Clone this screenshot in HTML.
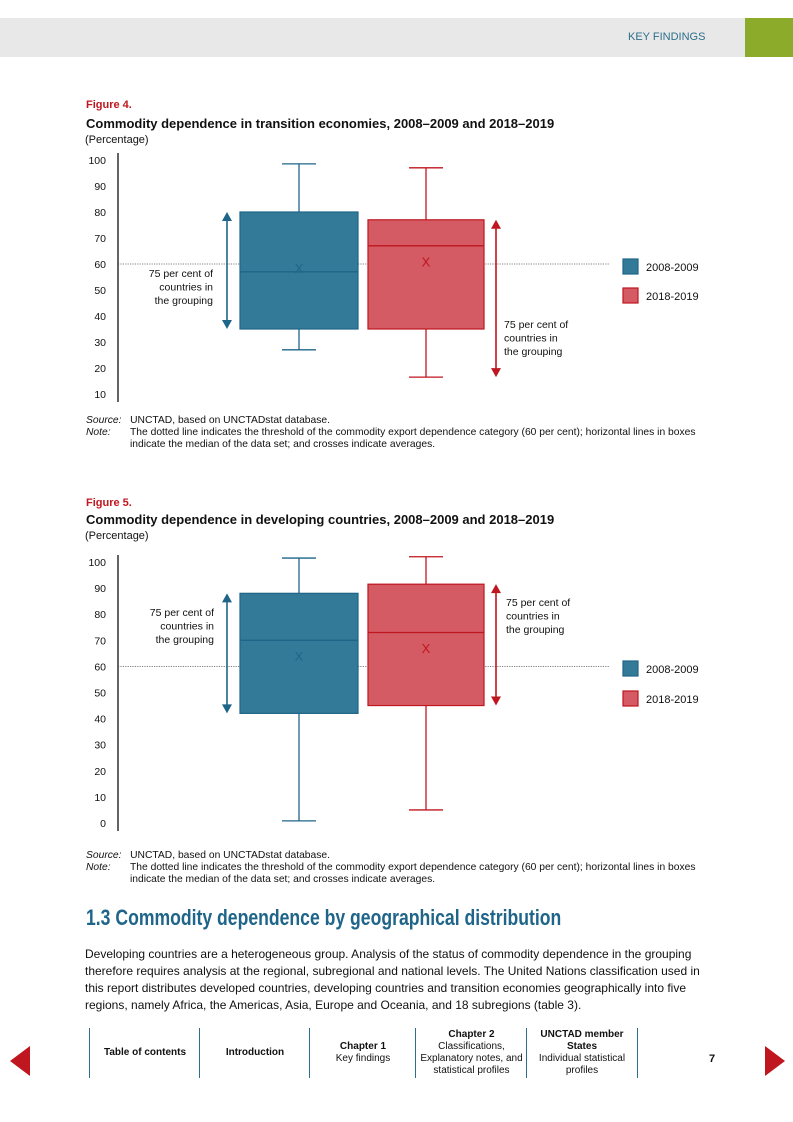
<!DOCTYPE html>
<html><head><meta charset="utf-8">
<style>
body{margin:0;width:793px;height:1122px;position:relative;background:#fff;font-family:"Liberation Sans",sans-serif;color:#111;overflow:hidden}
.a{position:absolute;white-space:nowrap}
.fig{color:#c0161f;font-size:11px;font-weight:bold}
.ttl{font-size:13px;font-weight:bold}
.pct{font-size:11px}
.src{font-size:10.3px;line-height:12px}
.nav{position:absolute;top:1028px;height:50px;border-left:1.5px solid #2c6f8c;font-size:10px;text-align:center;display:flex;align-items:center;justify-content:center;line-height:12px}
</style></head><body>
<div class="a" style="left:0;top:18px;width:745px;height:39px;background:#e8e8e8"></div>
<div class="a" style="left:745px;top:18px;width:48px;height:39px;background:#8dab2a"></div>
<div class="a" style="left:628px;top:31px;font-size:11px;color:#2c6f8c">KEY FINDINGS</div>

<div class="a fig" style="left:86px;top:99px">Figure 4.</div>
<div class="a ttl" style="left:86px;top:116px">Commodity dependence in transition economies, 2008–2009 and 2018–2019</div>
<div class="a pct" style="left:85px;top:134px">(Percentage)</div>
<div class="a src" style="left:86px;top:415px"><i>Source:</i>&nbsp;&nbsp; UNCTAD, based on UNCTADstat database.<br><i>Note:</i><span style="position:absolute;left:44px">The dotted line indicates the threshold of the commodity export dependence category (60 per cent); horizontal lines in boxes<br>indicate the median of the data set; and crosses indicate averages.</span></div>

<div class="a fig" style="left:86px;top:497px">Figure 5.</div>
<div class="a ttl" style="left:86px;top:512px">Commodity dependence in developing countries, 2008–2009 and 2018–2019</div>
<div class="a pct" style="left:85px;top:530px">(Percentage)</div>
<div class="a src" style="left:86px;top:850px"><i>Source:</i>&nbsp;&nbsp; UNCTAD, based on UNCTADstat database.<br><i>Note:</i><span style="position:absolute;left:44px">The dotted line indicates the threshold of the commodity export dependence category (60 per cent); horizontal lines in boxes<br>indicate the median of the data set; and crosses indicate averages.</span></div>

<div class="a" style="left:86px;top:905px;font-size:22px;font-weight:bold;color:#1f6589;transform:scaleX(0.8);transform-origin:left top">1.3 Commodity dependence by geographical distribution</div>
<div class="a" style="left:85px;top:946px;font-size:12px;line-height:17px">Developing countries are a heterogeneous group. Analysis of the status of commodity dependence in the grouping<br>therefore requires analysis at the regional, subregional and national levels. The United Nations classification used in<br>this report distributes developed countries, developing countries and transition economies geographically into five<br>regions, namely Africa, the Americas, Asia, Europe and Oceania, and 18 subregions (table 3).</div>

<div class="a" style="left:10px;top:1046px;width:0;height:0;border-top:15px solid transparent;border-bottom:15px solid transparent;border-right:20px solid #c0161f"></div>
<div class="a" style="left:765px;top:1046px;width:0;height:0;border-top:15px solid transparent;border-bottom:15px solid transparent;border-left:20px solid #c0161f"></div>
<div class="nav" style="left:89px;width:110px"><b>Table of contents</b></div>
<div class="nav" style="left:199px;width:110px"><b>Introduction</b></div>
<div class="nav" style="left:309px;width:106px"><span><b>Chapter 1</b><br>Key findings</span></div>
<div class="nav" style="left:415px;width:111px"><span><b>Chapter 2</b><br>Classifications,<br>Explanatory notes, and<br>statistical profiles</span></div>
<div class="nav" style="left:526px;width:110px;border-right:1.5px solid #2c6f8c"><span><b>UNCTAD member States</b><br>Individual statistical<br>profiles</span></div>
<div class="a" style="left:709px;top:1053px;font-size:11px;font-weight:bold">7</div>

<svg id="charts" class="a" style="left:0;top:0" width="793" height="1122" xmlns="http://www.w3.org/2000/svg"></svg>
<script>
// Figure 4 data (transition economies)
const series = ["2008-2009","2018-2019"];
const f4Ticks = [100,90,80,70,60,50,40,30,20,10];
const f4Min = [27,16.5];
const f4Q1 = [35,35];
const f4Median = [57,67];
const f4Mean = [58.5,61];
const f4Q3 = [80,77];
const f4Max = [98.5,97];
// Figure 5 data (developing countries)
const f5Ticks = [100,90,80,70,60,50,40,30,20,10,0];
const f5Min = [0.8,5];
const f5Q1 = [42,45];
const f5Median = [70,73];
const f5Mean = [64,67];
const f5Q3 = [88,91.5];
const f5Max = [101.5,102];
const threshold = 60;

const svg = document.getElementById('charts');
const NS = "http://www.w3.org/2000/svg";
const colors = ["#327a98","#d45b63"];
const strokes = ["#1f6589","#c0161f"];
function mk(tag, attrs, parent){
  const e = document.createElementNS(NS, tag);
  for (const k in attrs) e.setAttribute(k, attrs[k]);
  (parent||svg).appendChild(e);
  return e;
}
function draw(cfg){
  const y = v => cfg.y0 + (cfg.vTop - v) * cfg.ppu;
  const g = mk('g', {});
  
  
  const ax = mk('line', {x1:118,x2:118,y1:y(cfg.ticks[0])-7,y2:y(cfg.ticks[cfg.ticks.length-1])+8,stroke:'#111','stroke-width':1.3}, g);
  
  
  cfg.ticks.forEach(t => {
    const tx = mk('text', {x:106,y:y(t)+4,'text-anchor':'end','font-size':10.5,'font-family':'Liberation Sans, sans-serif',fill:'#111'}, g);
    tx.textContent = t;
    
    
  });
  const th = mk('line', {x1:118,x2:610,y1:y(threshold),y2:y(threshold),stroke:'#555','stroke-width':0.8,'stroke-dasharray':'1.2,1.2'}, g);
  
  
  const xs = [240,368], ws = [118,116];
  for (let i=0;i<2;i++){
    const cx = xs[i] + ws[i]/2;
    const b = mk('g', {}, g);
    
    
    mk('line',{x1:cx,x2:cx,y1:y(cfg.max[i]),y2:y(cfg.q3[i]),stroke:strokes[i],'stroke-width':1.3},b);
    mk('line',{x1:cx,x2:cx,y1:y(cfg.q1[i]),y2:y(cfg.min[i]),stroke:strokes[i],'stroke-width':1.3},b);
    mk('line',{x1:cx-17,x2:cx+17,y1:y(cfg.max[i]),y2:y(cfg.max[i]),stroke:strokes[i],'stroke-width':1.3},b);
    mk('line',{x1:cx-17,x2:cx+17,y1:y(cfg.min[i]),y2:y(cfg.min[i]),stroke:strokes[i],'stroke-width':1.3},b);
    mk('rect',{x:xs[i],y:y(cfg.q3[i]),width:ws[i],height:y(cfg.q1[i])-y(cfg.q3[i]),fill:colors[i],stroke:strokes[i],'stroke-width':1.2},b);
    mk('line',{x1:xs[i],x2:xs[i]+ws[i],y1:y(cfg.median[i]),y2:y(cfg.median[i]),stroke:strokes[i],'stroke-width':1.3},b);
    const m = mk('text',{x:cx,y:y(cfg.mean[i])+5,'text-anchor':'middle','font-size':13,'font-family':'Liberation Sans, sans-serif',fill:strokes[i]},b);
    m.textContent = 'X';
    const ly = cfg.legY[i];
    const lr = mk('rect',{x:623,y:ly,width:15,height:15,fill:colors[i],stroke:strokes[i],'stroke-width':1.2},g);
    
    
    const lt = mk('text',{x:646,y:ly+12,'font-size':11,'font-family':'Liberation Sans, sans-serif',fill:'#111'},g);
    lt.textContent = series[i];
    
    
  }
  const arr = [[227,cfg.q3[0],cfg.q1[0]],[496,cfg.q3[1],cfg.min[1]]];
  if (cfg.redToQ1) arr[1][2] = cfg.q1[1];
  arr.forEach((a,i)=>{
    const y1=y(a[1]), y2=y(a[2]), x=a[0];
    const ag = mk('g',{},g);
    
    
    mk('line',{x1:x,x2:x,y1:y1+8,y2:y2-8,stroke:strokes[i],'stroke-width':1.6},ag);
    mk('polygon',{points:`${x-5},${y1+9} ${x+5},${y1+9} ${x},${y1}`,fill:strokes[i]},ag);
    mk('polygon',{points:`${x-5},${y2-9} ${x+5},${y2-9} ${x},${y2}`,fill:strokes[i]},ag);
  });
  cfg.notes.forEach(n=>{
    n.lines.forEach((l,j)=>{
      const t = mk('text',{x:n.x,y:n.y+j*13.5,'text-anchor':n.anchor,'font-size':10.5,'font-family':'Liberation Sans, sans-serif',fill:'#111'},g);
      t.textContent = l;
      
      
    });
  });
}
const noteLines = ["75 per cent of","countries in","the grouping"];
draw({name:'figure4-chart',y0:160,vTop:100,ppu:2.6,ticks:f4Ticks,min:f4Min,q1:f4Q1,median:f4Median,mean:f4Mean,q3:f4Q3,max:f4Max,legY:[259,288],redToQ1:false,
  notes:[{x:213,y:277,anchor:'end',lines:noteLines},{x:504,y:328,anchor:'start',lines:noteLines}]});
draw({name:'figure5-chart',y0:562,vTop:100,ppu:2.61,ticks:f5Ticks,min:f5Min,q1:f5Q1,median:f5Median,mean:f5Mean,q3:f5Q3,max:f5Max,legY:[661,691],redToQ1:true,
  notes:[{x:214,y:616,anchor:'end',lines:noteLines},{x:506,y:606,anchor:'start',lines:noteLines}]});
</script>
</body></html>
